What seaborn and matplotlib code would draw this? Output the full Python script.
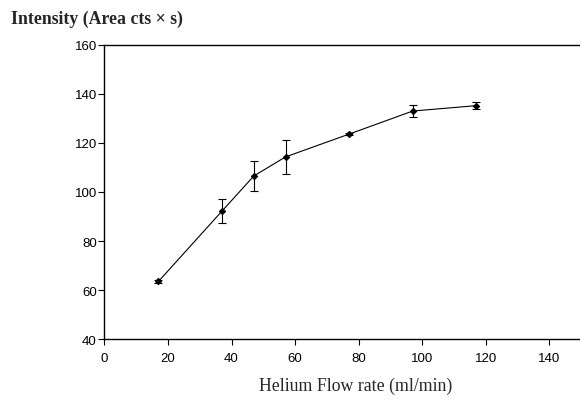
import numpy as np
import pandas as pd
import seaborn as sns
import matplotlib
matplotlib.use("Agg")
import matplotlib.pyplot as plt

flow_rate = [17, 37, 47, 57, 77, 97, 117]
intensity = [63.5, 92.2, 106.5, 114.3, 123.6, 133.0, 135.2]
error = [0.8, 5.0, 6.0, 7.0, 0.5, 2.5, 1.5]
x_ticks = [0, 20, 40, 60, 80, 100, 120, 140]
y_ticks = [40, 60, 80, 100, 120, 140, 160]

sns.set_style("white")
plt.rcParams['font.family'] = ['Liberation Sans', 'DejaVu Sans']
plt.rcParams['xtick.bottom'] = True
plt.rcParams['ytick.left'] = True

df = pd.DataFrame({"flow": flow_rate, "intensity": intensity, "err": error})

fig = plt.figure(figsize=(5.8, 4.02), dpi=100)
ax = fig.add_axes([0.180, 0.154, 0.822, 0.732])

sns.lineplot(data=df, x="flow", y="intensity", ax=ax, color="black",
             linewidth=0.8, marker="D", markersize=3.2, markeredgecolor="black",
             markerfacecolor="black")
ax.errorbar(df["flow"], df["intensity"], yerr=df["err"], fmt="none",
            ecolor="black", elinewidth=0.8, capsize=2.8, capthick=0.8)

ax.set_xlim(0, 150)
ax.set_ylim(40, 160)
ax.set_xticks(x_ticks)
ax.set_yticks(y_ticks)
ax.tick_params(axis="both", which="major", bottom=True, left=True,
               direction="out", length=4, width=0.8,
               labelsize=9.5, colors="black", pad=1.5)
ax.tick_params(axis="x", pad=5)
for s in ["left", "bottom", "top"]:
    ax.spines[s].set_visible(True)
    ax.spines[s].set_color("black")
    ax.spines[s].set_linewidth(1.0)
ax.spines["right"].set_visible(False)

ax.set_xlabel("")
ax.set_ylabel("")
fig.text(0.019, 0.952, "Intensity (Area cts \u00d7 s)", fontsize=12.8, fontweight="bold",
         family=["Liberation Serif", "DejaVu Serif"], ha="left", va="center")
fig.text(0.614, 0.038, "Helium Flow rate (ml/min)", fontsize=12.8,
         family=["Liberation Serif", "DejaVu Serif"], ha="center", va="center")

fig.savefig("out.png", dpi=100)
